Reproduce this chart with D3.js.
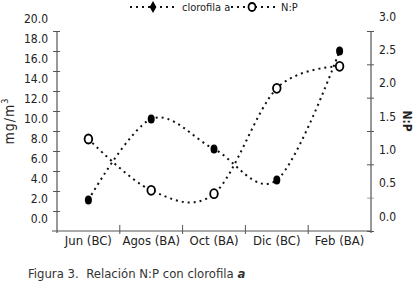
<!DOCTYPE html>
<html>
<head>
<meta charset="utf-8">
<script src="https://cdn.jsdelivr.net/npm/d3@7"></script>
<style>
  body { margin: 0; background: #fff; }
  svg { display: block; }
  text { fill: #222; }
</style>
</head>
<body>
<svg width="416" height="284"></svg>
<script>
const categories = ["Jun (BC)", "Agos (BA)", "Oct (BA)", "Dic (BC)", "Feb (BA)"];
const clorofila = [1.1, 9.2, 6.2, 3.1, 16.0];
const np = [1.38, 0.61, 0.56, 2.14, 2.47];
const leftTicks = [0, 2, 4, 6, 8, 10, 12, 14, 16, 18, 20];
const rightTicks = [0, 0.5, 1, 1.5, 2, 2.5, 3];

const svg = d3.select("svg");
const area = { left: 57, right: 371, top: 31, bottom: 231 };
const tickFont = "'DejaVu Sans Condensed', 'DejaVu Sans', sans-serif";

const scX = d3.scaleBand().domain(categories).range([area.left, area.right]);
const scL = d3.scaleLinear().domain([-2, 18]).range([area.bottom, area.top]);
const scR = d3.scaleLinear().domain([0, 3]).range([area.bottom, area.top]);

// left axis
const gL = svg.append("g")
    .attr("transform", `translate(${area.left},0)`)
    .call(d3.axisLeft(scL).tickValues(leftTicks).tickFormat(d3.format(".1f")).tickSize(4));
gL.select(".domain").remove();
gL.selectAll(".tick line").attr("x2", 3).attr("x1", -4).attr("stroke", "#555")
  .filter(d => d > 18).remove();
gL.selectAll(".tick text")
  .attr("x", -9).attr("dy", "0.95em")
  .style("font-family", tickFont).style("font-size", "12px").style("fill", "#222");
gL.append("line").attr("y1", scL(-2) + 2).attr("y2", scL(18)).attr("stroke", "#555").attr("stroke-width", 1.2);

// right axis
const gR = svg.append("g")
    .attr("transform", `translate(${area.right},0)`)
    .call(d3.axisRight(scR).tickValues(rightTicks).tickFormat(d3.format(".1f")).tickSize(3));
gR.select(".domain").remove();
gR.selectAll(".tick line").attr("x1", -4).attr("x2", 3)
  .attr("stroke", d => d == 0.5 ? "#aaa" : "#555");
gR.selectAll(".tick text")
  .attr("x", 8).attr("dy", "-0.9em")
  .style("font-family", tickFont).style("font-size", "12px").style("fill", "#222");
gR.append("line").attr("y1", scR(0) + 2).attr("y2", scR(3)).attr("stroke", "#555").attr("stroke-width", 1.2);

// x axis
const gX = svg.append("g")
    .attr("transform", `translate(0,${area.bottom})`);
gX.append("line").attr("x1", area.left - 5).attr("x2", area.right)
  .attr("stroke", "#555").attr("stroke-width", 1.2);
const bounds = categories.map(c => scX(c)).concat([area.right]);
gX.selectAll(".xt").data(bounds.slice(1, -1)).enter().append("line")
  .attr("x1", d => d).attr("x2", d => d).attr("y1", -6).attr("y2", 3)
  .attr("stroke", "#555");
gX.selectAll(".xl").data(categories).enter().append("text")
  .attr("x", d => scX(d) + scX.bandwidth() / 2)
  .attr("y", 14)
  .attr("text-anchor", "middle")
  .style("font-family", tickFont).style("font-size", "13px")
  .text(d => d);

// lines
const lineL = d3.line()
    .x((d, i) => scX(categories[i]) + scX.bandwidth() / 2)
    .y(d => scL(d))
    .curve(d3.curveCardinal.tension(0));
const lineR = d3.line()
    .x((d, i) => scX(categories[i]) + scX.bandwidth() / 2)
    .y(d => scR(d))
    .curve(d3.curveCardinal.tension(0));

svg.append("path").attr("d", lineL(clorofila))
  .attr("fill", "none").attr("stroke", "#111").attr("stroke-width", 2)
  .attr("stroke-dasharray", "2,4");
svg.append("path").attr("d", lineR(np))
  .attr("fill", "none").attr("stroke", "#111").attr("stroke-width", 2)
  .attr("stroke-dasharray", "2,4");

svg.selectAll(".dotL").data(clorofila).enter().append("ellipse")
  .attr("cx", (d, i) => scX(categories[i]) + scX.bandwidth() / 2)
  .attr("cy", d => scL(d))
  .attr("rx", 3.5).attr("ry", 4.5)
  .style("fill", "#000");
svg.selectAll(".dotR").data(np).enter().append("ellipse")
  .attr("cx", (d, i) => scX(categories[i]) + scX.bandwidth() / 2)
  .attr("cy", d => scR(d))
  .attr("rx", 3.8).attr("ry", 4.5)
  .style("fill", "#fff").style("stroke", "#000").style("stroke-width", 1.8);

// legend
const legY = 7;
const leg = svg.append("g");
leg.append("line").attr("x1", 130).attr("x2", 177).attr("y1", legY).attr("y2", legY)
  .attr("stroke", "#111").attr("stroke-width", 2).attr("stroke-dasharray", "2,4");
leg.append("path").attr("d", d3.symbol(d3.symbolDiamond, 40)())
  .attr("transform", `translate(153,${legY})`).style("fill", "#000");
leg.append("text").attr("x", 182).attr("y", legY + 4)
  .style("font-family", tickFont).style("font-size", "11px").text("clorofila a");
leg.append("line").attr("x1", 231).attr("x2", 275).attr("y1", legY).attr("y2", legY)
  .attr("stroke", "#111").attr("stroke-width", 2).attr("stroke-dasharray", "2,4");
leg.append("ellipse").attr("cx", 252).attr("cy", legY).attr("rx", 3.5).attr("ry", 4)
  .style("fill", "#fff").style("stroke", "#000").style("stroke-width", 1.8);
leg.append("text").attr("x", 281).attr("y", legY + 4)
  .style("font-family", tickFont).style("font-size", "11px").text("N:P");

// axis titles
svg.append("text")
  .attr("transform", "translate(14,121) rotate(-90)")
  .attr("text-anchor", "middle")
  .style("font-family", tickFont).style("font-size", "14px").style("letter-spacing", "1px")
  .html("mg/m<tspan dy='-6' font-size='9px'>3</tspan>");
svg.append("text")
  .attr("transform", "translate(403,121) rotate(90)")
  .attr("text-anchor", "middle")
  .style("font-family", tickFont).style("font-size", "12px").style("font-weight", "bold")
  .text("N:P");

// caption
const cap = svg.append("text").attr("x", 28).attr("y", 278)
  .style("font-family", "'Liberation Sans Narrow', 'DejaVu Sans Condensed', sans-serif")
  .style("font-size", "13px").style("fill", "#333");
cap.append("tspan").text("Figura 3.\u00a0\u00a0Relación N:P con clorofila ");
cap.append("tspan").style("font-weight", "bold").style("font-style", "italic").text("a");
</script>
</body>
</html>
